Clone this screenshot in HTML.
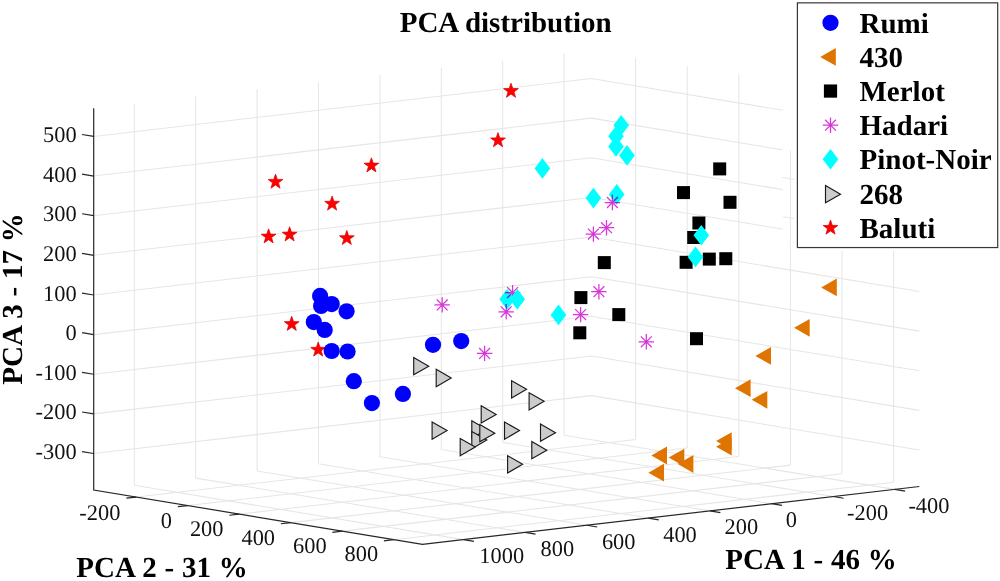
<!DOCTYPE html>
<html><head><meta charset="utf-8"><style>
html,body{margin:0;padding:0;background:#fff;}
body{width:1000px;height:581px;overflow:hidden;}
svg{display:block;will-change:transform;}
.g{stroke:#e6e6e6;stroke-width:1.05;fill:none;}
.a{stroke:#262626;stroke-width:1.2;fill:none;}
text{font-family:"Liberation Serif",serif;fill:#000;text-rendering:geometricPrecision;}
.tl text{font-size:22.4px;fill:#111;}
.b{font-size:29px;font-weight:bold;}
.ax{word-spacing:0.6px;}
</style></head><body>
<svg width="1000" height="581" viewBox="0 0 1000 581">
<rect width="1000" height="581" fill="#fff"/>
<line x1="134.30" y1="485.28" x2="134.30" y2="103.58" class="g"/>
<line x1="134.30" y1="485.28" x2="463.60" y2="539.61" class="g"/>
<line x1="195.70" y1="478.13" x2="195.70" y2="96.43" class="g"/>
<line x1="195.70" y1="478.13" x2="525.20" y2="532.43" class="g"/>
<line x1="257.10" y1="470.99" x2="257.10" y2="89.29" class="g"/>
<line x1="257.10" y1="470.99" x2="586.80" y2="525.25" class="g"/>
<line x1="318.50" y1="463.84" x2="318.50" y2="82.14" class="g"/>
<line x1="318.50" y1="463.84" x2="648.40" y2="518.07" class="g"/>
<line x1="379.90" y1="456.70" x2="379.90" y2="75.00" class="g"/>
<line x1="379.90" y1="456.70" x2="710.00" y2="510.89" class="g"/>
<line x1="441.30" y1="449.55" x2="441.30" y2="67.85" class="g"/>
<line x1="441.30" y1="449.55" x2="771.60" y2="503.71" class="g"/>
<line x1="502.70" y1="442.41" x2="502.70" y2="60.71" class="g"/>
<line x1="502.70" y1="442.41" x2="833.20" y2="496.53" class="g"/>
<line x1="564.10" y1="435.26" x2="564.10" y2="53.56" class="g"/>
<line x1="564.10" y1="435.26" x2="894.80" y2="489.36" class="g"/>
<line x1="635.60" y1="439.45" x2="635.60" y2="57.75" class="g"/>
<line x1="136.30" y1="497.05" x2="635.60" y2="439.45" class="g"/>
<line x1="687.20" y1="448.01" x2="687.20" y2="66.31" class="g"/>
<line x1="187.80" y1="505.57" x2="687.20" y2="448.01" class="g"/>
<line x1="738.80" y1="456.56" x2="738.80" y2="74.86" class="g"/>
<line x1="239.30" y1="514.09" x2="738.80" y2="456.56" class="g"/>
<line x1="790.40" y1="465.12" x2="790.40" y2="83.42" class="g"/>
<line x1="290.80" y1="522.61" x2="790.40" y2="465.12" class="g"/>
<line x1="842.00" y1="473.68" x2="842.00" y2="91.98" class="g"/>
<line x1="342.30" y1="531.13" x2="842.00" y2="473.68" class="g"/>
<line x1="893.60" y1="482.24" x2="893.60" y2="100.54" class="g"/>
<line x1="393.80" y1="539.65" x2="893.60" y2="482.24" class="g"/>
<polyline points="93.70,453.53 591.30,395.63 919.30,450.03" class="g"/>
<polyline points="93.70,413.89 591.30,355.99 919.30,410.39" class="g"/>
<polyline points="93.70,374.25 591.30,316.35 919.30,370.75" class="g"/>
<polyline points="93.70,334.61 591.30,276.71 919.30,331.11" class="g"/>
<polyline points="93.70,294.97 591.30,237.07 919.30,291.47" class="g"/>
<polyline points="93.70,255.33 591.30,197.43 919.30,251.83" class="g"/>
<polyline points="93.70,215.69 591.30,157.79 919.30,212.19" class="g"/>
<polyline points="93.70,176.05 591.30,118.15 919.30,172.55" class="g"/>
<polyline points="93.70,136.41 591.30,78.51 919.30,132.91" class="g"/>
<polyline points="93.70,108.30 93.70,490.00 422.50,544.40 919.30,486.50" class="a"/>
<line x1="463.60" y1="539.61" x2="473.96" y2="541.32" class="a"/>
<line x1="525.20" y1="532.43" x2="535.56" y2="534.14" class="a"/>
<line x1="586.80" y1="525.25" x2="597.16" y2="526.97" class="a"/>
<line x1="648.40" y1="518.07" x2="658.76" y2="519.79" class="a"/>
<line x1="710.00" y1="510.89" x2="720.36" y2="512.61" class="a"/>
<line x1="771.60" y1="503.71" x2="781.96" y2="505.43" class="a"/>
<line x1="833.20" y1="496.53" x2="843.56" y2="498.25" class="a"/>
<line x1="894.80" y1="489.36" x2="905.16" y2="491.07" class="a"/>
<line x1="136.30" y1="497.05" x2="126.37" y2="498.20" class="a"/>
<line x1="187.80" y1="505.57" x2="177.87" y2="506.72" class="a"/>
<line x1="239.30" y1="514.09" x2="229.37" y2="515.25" class="a"/>
<line x1="290.80" y1="522.61" x2="280.87" y2="523.77" class="a"/>
<line x1="342.30" y1="531.13" x2="332.37" y2="532.29" class="a"/>
<line x1="393.80" y1="539.65" x2="383.87" y2="540.81" class="a"/>
<line x1="93.70" y1="453.53" x2="82.06" y2="451.61" class="a"/>
<line x1="93.70" y1="413.89" x2="82.06" y2="411.97" class="a"/>
<line x1="93.70" y1="374.25" x2="82.06" y2="372.33" class="a"/>
<line x1="93.70" y1="334.61" x2="82.06" y2="332.69" class="a"/>
<line x1="93.70" y1="294.97" x2="82.06" y2="293.05" class="a"/>
<line x1="93.70" y1="255.33" x2="82.06" y2="253.41" class="a"/>
<line x1="93.70" y1="215.69" x2="82.06" y2="213.77" class="a"/>
<line x1="93.70" y1="176.05" x2="82.06" y2="174.13" class="a"/>
<line x1="93.70" y1="136.41" x2="82.06" y2="134.49" class="a"/>
<rect x="782.8" y="0" width="15" height="247.5" fill="#fff"/>
<rect x="797" y="240" width="203" height="11.0" fill="#fff"/>
<rect x="900" y="250" width="30" height="3" fill="#fff"/>
<line x1="790.40" y1="150.40" x2="790.40" y2="247.50" class="g"/>
<line x1="782.30" y1="177.30" x2="794.20" y2="179.40" class="g"/>
<line x1="783.30" y1="216.70" x2="794.20" y2="218.60" class="g"/>
<g class="tl"><text x="76.6" y="459.13" text-anchor="end">-300</text>
<text x="76.6" y="419.49" text-anchor="end">-200</text>
<text x="76.6" y="379.85" text-anchor="end">-100</text>
<text x="76.6" y="340.21" text-anchor="end">0</text>
<text x="76.6" y="300.57" text-anchor="end">100</text>
<text x="76.6" y="260.93" text-anchor="end">200</text>
<text x="76.6" y="221.29" text-anchor="end">300</text>
<text x="76.6" y="181.65" text-anchor="end">400</text>
<text x="76.6" y="142.01" text-anchor="end">500</text>
<text x="120.40" y="519.60" text-anchor="end">-200</text>
<text x="171.95" y="527.96" text-anchor="end">0</text>
<text x="223.50" y="536.32" text-anchor="end">200</text>
<text x="275.05" y="544.68" text-anchor="end">400</text>
<text x="326.60" y="553.04" text-anchor="end">600</text>
<text x="378.15" y="561.40" text-anchor="end">800</text>
<text x="479.30" y="562.80">1000</text>
<text x="540.60" y="555.70">800</text>
<text x="601.90" y="548.60">600</text>
<text x="663.20" y="541.50">400</text>
<text x="724.50" y="534.40">200</text>
<text x="785.80" y="527.30">0</text>
<text x="847.10" y="520.20">-200</text>
<text x="908.40" y="513.10">-400</text></g>
<text x="399.7" y="31.7" class="b">PCA distribution</text>
<text x="76.3" y="577.3" class="b ax">PCA 2 - 31 %</text>
<text x="725.3" y="568.5" class="b ax">PCA 1 - 46 %</text>
<text transform="translate(22.3,384.7) rotate(-90)" class="b ax">PCA 3 - 17 %</text>
<polygon points="511.00,83.20 512.83,88.48 518.42,88.59 513.97,91.96 515.58,97.31 511.00,94.12 506.42,97.31 508.03,91.96 503.58,88.59 509.17,88.48" fill="#ff0000" stroke="#d80000" stroke-width="0.7" stroke-linejoin="round"/>
<polygon points="498.00,132.60 499.83,137.88 505.42,137.99 500.97,141.36 502.58,146.71 498.00,143.52 493.42,146.71 495.03,141.36 490.58,137.99 496.17,137.88" fill="#ff0000" stroke="#d80000" stroke-width="0.7" stroke-linejoin="round"/>
<polygon points="371.40,157.80 373.23,163.08 378.82,163.19 374.37,166.56 375.98,171.91 371.40,168.72 366.82,171.91 368.43,166.56 363.98,163.19 369.57,163.08" fill="#ff0000" stroke="#d80000" stroke-width="0.7" stroke-linejoin="round"/>
<polygon points="275.50,174.10 277.33,179.38 282.92,179.49 278.47,182.86 280.08,188.21 275.50,185.02 270.92,188.21 272.53,182.86 268.08,179.49 273.67,179.38" fill="#ff0000" stroke="#d80000" stroke-width="0.7" stroke-linejoin="round"/>
<polygon points="332.10,196.00 333.93,201.28 339.52,201.39 335.07,204.76 336.68,210.11 332.10,206.92 327.52,210.11 329.13,204.76 324.68,201.39 330.27,201.28" fill="#ff0000" stroke="#d80000" stroke-width="0.7" stroke-linejoin="round"/>
<polygon points="268.60,228.80 270.43,234.08 276.02,234.19 271.57,237.56 273.18,242.91 268.60,239.72 264.02,242.91 265.63,237.56 261.18,234.19 266.77,234.08" fill="#ff0000" stroke="#d80000" stroke-width="0.7" stroke-linejoin="round"/>
<polygon points="289.60,226.80 291.43,232.08 297.02,232.19 292.57,235.56 294.18,240.91 289.60,237.72 285.02,240.91 286.63,235.56 282.18,232.19 287.77,232.08" fill="#ff0000" stroke="#d80000" stroke-width="0.7" stroke-linejoin="round"/>
<polygon points="346.80,230.40 348.63,235.68 354.22,235.79 349.77,239.16 351.38,244.51 346.80,241.32 342.22,244.51 343.83,239.16 339.38,235.79 344.97,235.68" fill="#ff0000" stroke="#d80000" stroke-width="0.7" stroke-linejoin="round"/>
<polygon points="291.70,316.30 293.53,321.58 299.12,321.69 294.67,325.06 296.28,330.41 291.70,327.22 287.12,330.41 288.73,325.06 284.28,321.69 289.87,321.58" fill="#ff0000" stroke="#d80000" stroke-width="0.7" stroke-linejoin="round"/>
<polygon points="318.20,342.00 320.03,347.28 325.62,347.39 321.17,350.76 322.78,356.11 318.20,352.92 313.62,356.11 315.23,350.76 310.78,347.39 316.37,347.28" fill="#ff0000" stroke="#d80000" stroke-width="0.7" stroke-linejoin="round"/>
<circle cx="320.10" cy="295.90" r="8.1" fill="#0000ff"/>
<circle cx="321.10" cy="306.00" r="8.1" fill="#0000ff"/>
<circle cx="331.70" cy="304.10" r="8.1" fill="#0000ff"/>
<circle cx="346.60" cy="311.30" r="8.1" fill="#0000ff"/>
<circle cx="313.80" cy="322.10" r="8.1" fill="#0000ff"/>
<circle cx="324.70" cy="329.90" r="8.1" fill="#0000ff"/>
<circle cx="331.70" cy="351.00" r="8.1" fill="#0000ff"/>
<circle cx="347.60" cy="351.50" r="8.1" fill="#0000ff"/>
<circle cx="353.80" cy="381.20" r="8.1" fill="#0000ff"/>
<circle cx="371.90" cy="403.10" r="8.1" fill="#0000ff"/>
<circle cx="402.90" cy="393.90" r="8.1" fill="#0000ff"/>
<circle cx="433.00" cy="344.80" r="8.1" fill="#0000ff"/>
<circle cx="461.20" cy="341.10" r="8.1" fill="#0000ff"/>
<polygon points="821.20,287.40 836.80,278.50 836.80,296.30" fill="#df7400"/>
<polygon points="794.10,327.80 809.70,318.90 809.70,336.70" fill="#df7400"/>
<polygon points="755.40,355.90 771.00,347.00 771.00,364.80" fill="#df7400"/>
<polygon points="735.00,388.20 750.60,379.30 750.60,397.10" fill="#df7400"/>
<polygon points="751.70,399.80 767.30,390.90 767.30,408.70" fill="#df7400"/>
<polygon points="716.10,441.10 731.70,432.20 731.70,450.00" fill="#df7400"/>
<polygon points="716.10,446.70 731.70,437.80 731.70,455.60" fill="#df7400"/>
<polygon points="651.40,455.50 667.00,446.60 667.00,464.40" fill="#df7400"/>
<polygon points="648.40,472.70 664.00,463.80 664.00,481.60" fill="#df7400"/>
<polygon points="668.70,457.60 684.30,448.70 684.30,466.50" fill="#df7400"/>
<polygon points="677.80,464.00 693.40,455.10 693.40,472.90" fill="#df7400"/>
<rect x="597.80" y="256.10" width="13.0" height="13.0" fill="#000"/>
<rect x="574.40" y="291.10" width="13.0" height="13.0" fill="#000"/>
<rect x="612.30" y="308.10" width="13.0" height="13.0" fill="#000"/>
<rect x="573.30" y="326.30" width="13.0" height="13.0" fill="#000"/>
<rect x="690.00" y="332.20" width="13.0" height="13.0" fill="#000"/>
<rect x="713.20" y="162.40" width="13.0" height="13.0" fill="#000"/>
<rect x="677.00" y="186.10" width="13.0" height="13.0" fill="#000"/>
<rect x="723.50" y="195.80" width="13.0" height="13.0" fill="#000"/>
<rect x="692.40" y="216.50" width="13.0" height="13.0" fill="#000"/>
<rect x="687.20" y="231.00" width="13.0" height="13.0" fill="#000"/>
<rect x="679.60" y="255.80" width="13.0" height="13.0" fill="#000"/>
<rect x="702.80" y="252.60" width="13.0" height="13.0" fill="#000"/>
<rect x="719.30" y="252.20" width="13.0" height="13.0" fill="#000"/>
<polygon points="542.40,158.10 550.20,168.40 542.40,178.70 534.60,168.40" fill="#00ffff"/>
<polygon points="621.20,115.00 629.00,125.30 621.20,135.60 613.40,125.30" fill="#00ffff"/>
<polygon points="616.00,126.00 623.80,136.30 616.00,146.60 608.20,136.30" fill="#00ffff"/>
<polygon points="616.00,136.20 623.80,146.50 616.00,156.80 608.20,146.50" fill="#00ffff"/>
<polygon points="627.00,145.10 634.80,155.40 627.00,165.70 619.20,155.40" fill="#00ffff"/>
<polygon points="593.40,187.80 601.20,198.10 593.40,208.40 585.60,198.10" fill="#00ffff"/>
<polygon points="616.70,184.10 624.50,194.40 616.70,204.70 608.90,194.40" fill="#00ffff"/>
<polygon points="701.30,225.00 709.10,235.30 701.30,245.60 693.50,235.30" fill="#00ffff"/>
<polygon points="695.50,246.60 703.30,256.90 695.50,267.20 687.70,256.90" fill="#00ffff"/>
<polygon points="507.10,289.00 514.90,299.30 507.10,309.60 499.30,299.30" fill="#00ffff"/>
<polygon points="558.50,304.60 566.30,314.90 558.50,325.20 550.70,314.90" fill="#00ffff"/>
<path d="M434.50 304.90H449.90M442.20 297.20V312.60M436.76 299.46L447.64 310.34M436.76 310.34L447.64 299.46" stroke="#d836d8" stroke-width="1.25" fill="none"/>
<path d="M504.90 292.60H520.30M512.60 284.90V300.30M507.16 287.16L518.04 298.04M507.16 298.04L518.04 287.16" stroke="#d836d8" stroke-width="1.25" fill="none"/>
<path d="M498.50 311.80H513.90M506.20 304.10V319.50M500.76 306.36L511.64 317.24M500.76 317.24L511.64 306.36" stroke="#d836d8" stroke-width="1.25" fill="none"/>
<path d="M476.90 353.40H492.30M484.60 345.70V361.10M479.16 347.96L490.04 358.84M479.16 358.84L490.04 347.96" stroke="#d836d8" stroke-width="1.25" fill="none"/>
<path d="M572.90 314.60H588.30M580.60 306.90V322.30M575.16 309.16L586.04 320.04M575.16 320.04L586.04 309.16" stroke="#d836d8" stroke-width="1.25" fill="none"/>
<path d="M591.20 291.70H606.60M598.90 284.00V299.40M593.46 286.26L604.34 297.14M593.46 297.14L604.34 286.26" stroke="#d836d8" stroke-width="1.25" fill="none"/>
<path d="M585.70 234.10H601.10M593.40 226.40V241.80M587.96 228.66L598.84 239.54M587.96 239.54L598.84 228.66" stroke="#d836d8" stroke-width="1.25" fill="none"/>
<path d="M598.80 227.70H614.20M606.50 220.00V235.40M601.06 222.26L611.94 233.14M601.06 233.14L611.94 222.26" stroke="#d836d8" stroke-width="1.25" fill="none"/>
<path d="M604.70 202.50H620.10M612.40 194.80V210.20M606.96 197.06L617.84 207.94M606.96 207.94L617.84 197.06" stroke="#d836d8" stroke-width="1.25" fill="none"/>
<path d="M638.60 341.80H654.00M646.30 334.10V349.50M640.86 336.36L651.74 347.24M640.86 347.24L651.74 336.36" stroke="#d836d8" stroke-width="1.25" fill="none"/>
<clipPath id="dc"><polygon points="542.40,158.10 550.20,168.40 542.40,178.70 534.60,168.40" fill="#00ffff"/><polygon points="621.20,115.00 629.00,125.30 621.20,135.60 613.40,125.30" fill="#00ffff"/><polygon points="616.00,126.00 623.80,136.30 616.00,146.60 608.20,136.30" fill="#00ffff"/><polygon points="616.00,136.20 623.80,146.50 616.00,156.80 608.20,146.50" fill="#00ffff"/><polygon points="627.00,145.10 634.80,155.40 627.00,165.70 619.20,155.40" fill="#00ffff"/><polygon points="593.40,187.80 601.20,198.10 593.40,208.40 585.60,198.10" fill="#00ffff"/><polygon points="616.70,184.10 624.50,194.40 616.70,204.70 608.90,194.40" fill="#00ffff"/><polygon points="701.30,225.00 709.10,235.30 701.30,245.60 693.50,235.30" fill="#00ffff"/><polygon points="695.50,246.60 703.30,256.90 695.50,267.20 687.70,256.90" fill="#00ffff"/><polygon points="507.10,289.00 514.90,299.30 507.10,309.60 499.30,299.30" fill="#00ffff"/><polygon points="517.30,289.00 525.10,299.30 517.30,309.60 509.50,299.30" fill="#00ffff"/><polygon points="558.50,304.60 566.30,314.90 558.50,325.20 550.70,314.90" fill="#00ffff"/></clipPath>
<g clip-path="url(#dc)"><path d="M434.50 304.90H449.90M442.20 297.20V312.60M436.76 299.46L447.64 310.34M436.76 310.34L447.64 299.46" stroke="#4646d2" stroke-width="1.25" fill="none"/><path d="M504.90 292.60H520.30M512.60 284.90V300.30M507.16 287.16L518.04 298.04M507.16 298.04L518.04 287.16" stroke="#4646d2" stroke-width="1.25" fill="none"/><path d="M498.50 311.80H513.90M506.20 304.10V319.50M500.76 306.36L511.64 317.24M500.76 317.24L511.64 306.36" stroke="#4646d2" stroke-width="1.25" fill="none"/><path d="M476.90 353.40H492.30M484.60 345.70V361.10M479.16 347.96L490.04 358.84M479.16 358.84L490.04 347.96" stroke="#4646d2" stroke-width="1.25" fill="none"/><path d="M572.90 314.60H588.30M580.60 306.90V322.30M575.16 309.16L586.04 320.04M575.16 320.04L586.04 309.16" stroke="#4646d2" stroke-width="1.25" fill="none"/><path d="M591.20 291.70H606.60M598.90 284.00V299.40M593.46 286.26L604.34 297.14M593.46 297.14L604.34 286.26" stroke="#4646d2" stroke-width="1.25" fill="none"/><path d="M585.70 234.10H601.10M593.40 226.40V241.80M587.96 228.66L598.84 239.54M587.96 239.54L598.84 228.66" stroke="#4646d2" stroke-width="1.25" fill="none"/><path d="M598.80 227.70H614.20M606.50 220.00V235.40M601.06 222.26L611.94 233.14M601.06 233.14L611.94 222.26" stroke="#4646d2" stroke-width="1.25" fill="none"/><path d="M604.70 202.50H620.10M612.40 194.80V210.20M606.96 197.06L617.84 207.94M606.96 207.94L617.84 197.06" stroke="#4646d2" stroke-width="1.25" fill="none"/><path d="M638.60 341.80H654.00M646.30 334.10V349.50M640.86 336.36L651.74 347.24M640.86 347.24L651.74 336.36" stroke="#4646d2" stroke-width="1.25" fill="none"/></g>
<polygon points="517.30,289.00 525.10,299.30 517.30,309.60 509.50,299.30" fill="#00ffff"/>
<polygon points="413.70,357.55 428.70,366.20 413.70,374.85" fill="#cccccc" stroke="#1a1a1a" stroke-width="1.15" stroke-linejoin="miter"/>
<polygon points="436.20,369.35 451.20,378.00 436.20,386.65" fill="#cccccc" stroke="#1a1a1a" stroke-width="1.15" stroke-linejoin="miter"/>
<polygon points="511.60,380.65 526.60,389.30 511.60,397.95" fill="#cccccc" stroke="#1a1a1a" stroke-width="1.15" stroke-linejoin="miter"/>
<polygon points="529.10,392.65 544.10,401.30 529.10,409.95" fill="#cccccc" stroke="#1a1a1a" stroke-width="1.15" stroke-linejoin="miter"/>
<polygon points="481.20,405.75 496.20,414.40 481.20,423.05" fill="#cccccc" stroke="#1a1a1a" stroke-width="1.15" stroke-linejoin="miter"/>
<polygon points="432.10,421.95 447.10,430.60 432.10,439.25" fill="#cccccc" stroke="#1a1a1a" stroke-width="1.15" stroke-linejoin="miter"/>
<polygon points="471.80,420.85 486.80,429.50 471.80,438.15" fill="#cccccc" stroke="#1a1a1a" stroke-width="1.15" stroke-linejoin="miter"/>
<polygon points="471.80,431.45 486.80,440.10 471.80,448.75" fill="#cccccc" stroke="#1a1a1a" stroke-width="1.15" stroke-linejoin="miter"/>
<polygon points="479.80,424.55 494.80,433.20 479.80,441.85" fill="#cccccc" stroke="#1a1a1a" stroke-width="1.15" stroke-linejoin="miter"/>
<polygon points="460.20,438.45 475.20,447.10 460.20,455.75" fill="#cccccc" stroke="#1a1a1a" stroke-width="1.15" stroke-linejoin="miter"/>
<polygon points="504.50,421.95 519.50,430.60 504.50,439.25" fill="#cccccc" stroke="#1a1a1a" stroke-width="1.15" stroke-linejoin="miter"/>
<polygon points="540.50,424.05 555.50,432.70 540.50,441.35" fill="#cccccc" stroke="#1a1a1a" stroke-width="1.15" stroke-linejoin="miter"/>
<polygon points="531.80,441.55 546.80,450.20 531.80,458.85" fill="#cccccc" stroke="#1a1a1a" stroke-width="1.15" stroke-linejoin="miter"/>
<polygon points="507.60,455.65 522.60,464.30 507.60,472.95" fill="#cccccc" stroke="#1a1a1a" stroke-width="1.15" stroke-linejoin="miter"/>
<rect x="797.4" y="2.85" width="200.3" height="244.7" fill="#fff" stroke="#363636" stroke-width="1.2"/>
<circle cx="830.50" cy="22.80" r="8.1" fill="#0000ff"/>
<text x="859.5" y="32.90" class="b">Rumi</text>
<polygon points="820.20,56.93 835.80,48.03 835.80,65.83" fill="#df7400"/>
<text x="859.5" y="67.03" class="b">430</text>
<rect x="823.90" y="84.46" width="13.2" height="13.2" fill="#000"/>
<text x="859.5" y="101.16" class="b">Merlot</text>
<path d="M822.80 125.19H838.20M830.50 117.49V132.89M825.06 119.75L835.94 130.63M825.06 130.63L835.94 119.75" stroke="#d836d8" stroke-width="1.25" fill="none"/>
<text x="859.5" y="135.29" class="b">Hadari</text>
<polygon points="830.50,149.02 838.30,159.32 830.50,169.62 822.70,159.32" fill="#00ffff"/>
<text x="859.5" y="169.42" class="b">Pinot-Noir</text>
<polygon points="825.50,185.50 840.50,194.15 825.50,202.80" fill="#cccccc" stroke="#1a1a1a" stroke-width="1.15" stroke-linejoin="miter"/>
<text x="859.5" y="203.55" class="b">268</text>
<polygon points="830.50,220.08 832.33,225.36 837.92,225.47 833.47,228.84 835.08,234.19 830.50,231.00 825.92,234.19 827.53,228.84 823.08,225.47 828.67,225.36" fill="#ff0000" stroke="#d80000" stroke-width="0.7" stroke-linejoin="round"/>
<text x="859.5" y="237.68" class="b">Baluti</text>
</svg>
</body></html>
